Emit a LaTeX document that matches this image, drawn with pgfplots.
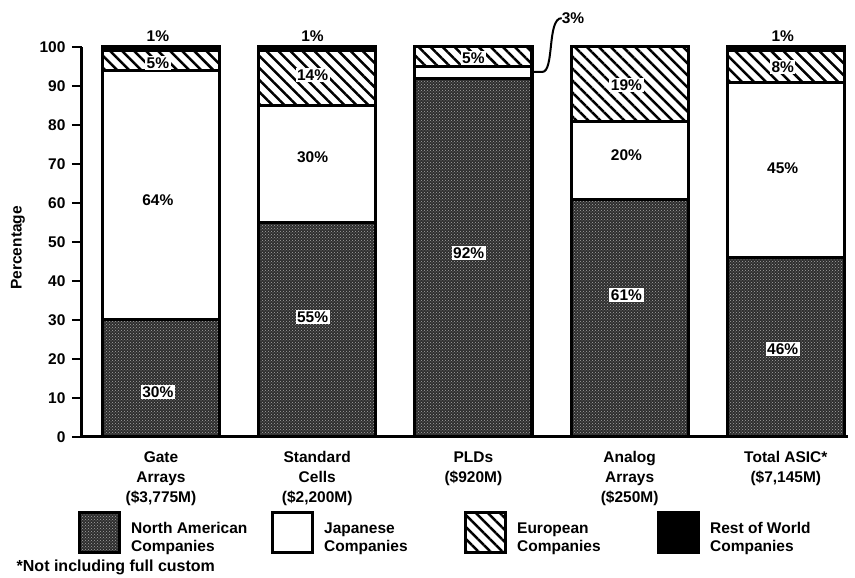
\documentclass[border=0pt]{standalone}
\usepackage{pgfplots}
\pgfplotsset{compat=1.18}
\usetikzlibrary{patterns,patterns.meta}
\usepackage{fontspec}
\setmainfont{Liberation Sans}
\newcommand{\fs}{\bfseries\fontsize{15.5}{18}\selectfont}
\tikzset{lbl/.style={font=\fs, inner sep=1.5pt}}
\begin{document}
\begin{tikzpicture}
\useasboundingbox (-82pt,-141pt) rectangle (773pt,437pt);
\begin{axis}[
  at={(0pt,0pt)}, anchor=south west,
  scale only axis, width=766pt, height=390pt,
  xmin=-0.5058, xmax=4.398, ymin=0, ymax=100,
  enlargelimits=false, clip=false,
  ybar stacked, bar width=0.75,
  axis x line*=bottom, axis y line*=left,
  axis line style={-, line width=3pt},
  xtick={0,1,2,3,4},
  xticklabels={{Gate\\Arrays\\(\$3,775M)},{Standard\\Cells\\(\$2,200M)},{PLDs\\(\$920M)},{Analog\\Arrays\\(\$250M)},{Total ASIC*\\(\$7,145M)}},
  x tick label style={align=center, yshift=-1pt, font=\bfseries\fontsize{15.5}{20}\selectfont},
  x tick style={draw=none},
  ytick={0,10,...,100},
  tick align=outside, major tick length=10pt,
  y tick style={line width=2.5pt, black},
  y tick label style={xshift=-3pt, font=\fs},
  /pgf/number format/assume math mode=true,
  ylabel={Percentage},
  ylabel style={at={(axis description cs:-0.0836,0.485)}, anchor=center, font=\fs},
  legend columns=4,
  legend style={at={(axis description cs:-0.005,-0.19)}, anchor=north west,
    draw=none, fill=none, inner sep=0pt, outer sep=0pt,
    nodes={inner sep=0pt}, cells={anchor=west}, font=\fs,
    /tikz/every odd column/.append style={column sep=10pt},
    /tikz/every even column/.append style={column sep=0pt}},
  legend image code/.code={\draw[#1] (0pt,-20pt) rectangle (40pt,20pt);},
]
\addplot[draw=black, line width=3pt, fill=black!82,
  postaction={pattern=crosshatch dots, pattern color=black!35}]
  coordinates {(0,30) (1,55) (2,92) (3,61) (4,46)};
\addlegendentry{\begin{tabular}{@{}p{140pt}@{}}North American\\Companies\end{tabular}}
\addplot[draw=black, line width=3pt, fill=white]
  coordinates {(0,64) (1,30) (2,3) (3,20) (4,45)};
\addlegendentry{\begin{tabular}{@{}p{140pt}@{}}Japanese\\Companies\end{tabular}}
\addplot[draw=black, line width=3pt, fill=white,
  postaction={pattern={Lines[angle=-45,distance=8.5pt,line width=2.5pt]}, pattern color=black}]
  coordinates {(0,5) (1,14) (2,5) (3,19) (4,8)};
\addlegendentry{\begin{tabular}{@{}p{140pt}@{}}European\\Companies\end{tabular}}
\addplot[draw=black, line width=3pt, fill=black]
  coordinates {(0,1) (1,1) (2,0) (3,0) (4,1)};
\addlegendentry{\begin{tabular}{@{}p{140pt}@{}}Rest of World\\Companies\end{tabular}}

\coordinate (na1) at (axis cs:-0.02,11.5);
\coordinate (na2) at (axis cs:0.97,30.8);
\coordinate (na3) at (axis cs:1.97,47.2);
\coordinate (na4) at (axis cs:2.98,36.4);
\coordinate (na5) at (axis cs:3.98,22.6);
\coordinate (jp1) at (axis cs:-0.02,60.8);
\coordinate (jp2) at (axis cs:0.97,71.8);
\coordinate (jp4) at (axis cs:2.98,72.3);
\coordinate (jp5) at (axis cs:3.98,69);
\coordinate (eu1) at (axis cs:-0.02,95.9);
\coordinate (eu2) at (axis cs:0.97,92.8);
\coordinate (eu3) at (axis cs:2.0,97.2);
\coordinate (eu4) at (axis cs:2.98,90.3);
\coordinate (eu5) at (axis cs:3.98,94.9);
\coordinate (rw1) at (axis cs:-0.02,102.8);
\coordinate (rw2) at (axis cs:0.97,102.8);
\coordinate (rw5) at (axis cs:3.98,102.8);
\coordinate (c0) at (axis cs:2.375,93.6);
\coordinate (c1) at (axis cs:2.44,93.6);
\coordinate (c2) at (axis cs:2.52,93.6);
\coordinate (c3) at (axis cs:2.47,107.4);
\coordinate (c4) at (axis cs:2.565,107.4);
\coordinate (fn) at (axis cs:-0.925,-33.4);
\end{axis}
\node[lbl, fill=white] at (na1) {30\%};
\node[lbl, fill=white] at (na2) {55\%};
\node[lbl, fill=white] at (na3) {92\%};
\node[lbl, fill=white] at (na4) {61\%};
\node[lbl, fill=white] at (na5) {46\%};
\node[lbl] at (jp1) {64\%};
\node[lbl] at (jp2) {30\%};
\node[lbl] at (jp4) {20\%};
\node[lbl] at (jp5) {45\%};
\node[lbl, fill=white] at (eu1) {5\%};
\node[lbl, fill=white] at (eu2) {14\%};
\node[lbl, fill=white] at (eu3) {5\%};
\node[lbl, fill=white] at (eu4) {19\%};
\node[lbl, fill=white] at (eu5) {8\%};
\node[lbl] at (rw1) {1\%};
\node[lbl] at (rw2) {1\%};
\node[lbl] at (rw5) {1\%};
\draw[line width=2pt] (c0) -- (c1) .. controls (c2) and (c3) .. (c4);
\node[lbl, anchor=west, inner sep=0pt] at (c4) {3\%};
\node[font=\bfseries\fontsize{16}{18}\selectfont, anchor=west, inner sep=0pt] at (fn) {*Not including full custom};
\end{tikzpicture}
\end{document}
